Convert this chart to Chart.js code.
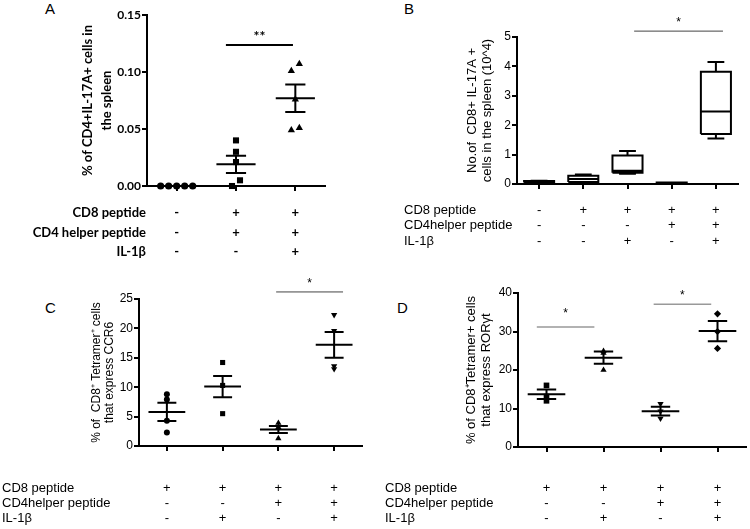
<!DOCTYPE html>
<html>
<head>
<meta charset="utf-8">
<script src="https://cdn.jsdelivr.net/npm/chart.js@4.4.0/dist/chart.umd.min.js"></script>
<style>
  body { margin: 0; background: #fff; width: 750px; height: 529px; position: relative; overflow: hidden; }
  canvas { position: absolute; }
  .letter { position: absolute; font: 15px "Liberation Sans", Arial, sans-serif; line-height: 15px; color: #000; }
</style>
</head>
<body>
<div class="letter" style="left:45px;top:1px">A</div>
<div class="letter" style="left:404px;top:1px">B</div>
<div class="letter" style="left:45px;top:300px">C</div>
<div class="letter" style="left:397px;top:300px">D</div>
<canvas id="chartA" width="375" height="265" style="left:0;top:0"></canvas>
<canvas id="chartB" width="375" height="265" style="left:375px;top:0"></canvas>
<canvas id="chartC" width="375" height="264" style="left:0;top:265px"></canvas>
<canvas id="chartD" width="375" height="264" style="left:375px;top:265px"></canvas>
<script>
// Panel A: % of CD4+IL-17A+ cells (scatter, mean ± SEM)
const rowNamesA = ['CD8 peptide', 'CD4 helper peptide', 'IL-1β'];
const signsA = [['-', '+', '+'], ['-', '+', '+'], ['-', '-', '+']];
const valuesA = [
  [0, 0, 0, 0, 0],
  [0.040, 0.030, 0.021, 0.005, 0.000],
  [0.107, 0.101, 0.076, 0.051, 0.049]
];
const meanA = [0, 0.019, 0.077];
const semA = [0, 0.0075, 0.012];
const ticksA = [0, 0.05, 0.10, 0.15];

// Panel B: No. of CD8+ IL-17A+ cells (box and whiskers)
const rowNamesB = ['CD8 peptide', 'CD4helper peptide', 'IL-1β'];
const signsB = [['-', '+', '+', '+', '+'], ['-', '-', '-', '+', '+'], ['-', '-', '+', '-', '+']];
const minB = [0.05, 0.05, 0.35, 0.02, 1.55];
const q1B = [0.05, 0.07, 0.38, 0.02, 1.70];
const medB = [0.08, 0.17, 0.45, 0.03, 2.47];
const q3B = [0.10, 0.28, 0.97, 0.05, 3.82];
const maxB = [0.11, 0.32, 1.12, 0.05, 4.15];
const ticksB = [0, 1, 2, 3, 4, 5];

// Panel C: % of CD8+ Tetramer+ cells expressing CCR6
const rowNamesC = ['CD8 peptide', 'CD4helper peptide', 'IL-1β'];
const signsC = [['+', '+', '+', '+'], ['-', '-', '+', '+'], ['-', '+', '-', '+']];
const valuesC = [[8.8, 7.9, 4.3, 2.3], [14.2, 10.3, 5.5], [3.9, 3.2, 1.3], [22.3, 19.6, 13.6, 13.1]];
const meanC = [5.8, 10.1, 2.8, 17.2];
const semC = [1.55, 1.8, 0.6, 2.2];
const ticksC = [0, 5, 10, 15, 20, 25];

// Panel D: % of CD8+ Tetramer+ cells expressing RORγt
const rowNamesD = ['CD8 peptide', 'CD4helper peptide', 'IL-1β'];
const signsD = [['+', '+', '+', '+'], ['-', '-', '+', '+'], ['-', '+', '-', '+']];
const valuesD = [[16.0, 13.1, 12.0], [24.9, 24.4, 20.0], [11.2, 9.3, 7.4], [34.6, 30.0, 25.6]];
const meanD = [13.7, 23.2, 9.3, 30.1];
const semD = [1.25, 1.6, 1.15, 2.6];
const ticksD = [0, 10, 20, 30, 40];

const SANS = '"Liberation Sans", Arial, sans-serif';
const BOLD = 'Lato, "Liberation Sans", sans-serif';

// spread points with near-equal values sideways, like a Prism dot plot
function swarm(vals, g, tol, step) {
  const xs = vals.map(() => g);
  if (!step) return xs;
  const order = vals.map((v, i) => i).sort((a, b) => vals[a] - vals[b]);
  let cluster = [order[0]];
  const flush = () => cluster.forEach((idx, k) => { xs[idx] = g + (k - (cluster.length - 1) / 2) * step; });
  for (let k = 1; k < order.length; k++) {
    if (vals[order[k]] - vals[order[k - 1]] <= tol) cluster.push(order[k]);
    else { flush(); cluster = [order[k]]; }
  }
  flush();
  return xs;
}

function semSegments(mean, sem, meanHalf, capHalf) {
  const pts = [];
  mean.forEach((m, g) => {
    const hi = m + sem[g], lo = m - sem[g];
    pts.push({x: g - meanHalf, y: m}, {x: g + meanHalf, y: m}, {x: g, y: null});
    if (sem[g] > 0) {
      pts.push({x: g - capHalf, y: hi}, {x: g + capHalf, y: hi}, {x: g, y: null});
      pts.push({x: g - capHalf, y: lo}, {x: g + capHalf, y: lo}, {x: g, y: null});
      pts.push({x: g, y: lo}, {x: g, y: hi}, {x: g, y: null});
    }
  });
  return pts;
}

function boxSegments(min, q1, med, q3, max, boxHalf, capHalf) {
  const pts = [];
  med.forEach((m, g) => {
    const l = g - boxHalf, r = g + boxHalf;
    pts.push({x: l, y: q1[g]}, {x: r, y: q1[g]}, {x: r, y: q3[g]}, {x: l, y: q3[g]}, {x: l, y: q1[g]}, {x: g, y: null});
    pts.push({x: l, y: m}, {x: r, y: m}, {x: g, y: null});
    pts.push({x: g, y: q3[g]}, {x: g, y: max[g]}, {x: g, y: null});
    pts.push({x: g - capHalf, y: max[g]}, {x: g + capHalf, y: max[g]}, {x: g, y: null});
    pts.push({x: g, y: q1[g]}, {x: g, y: min[g]}, {x: g, y: null});
    pts.push({x: g - capHalf, y: min[g]}, {x: g + capHalf, y: min[g]}, {x: g, y: null});
  });
  return pts;
}

// condition table under the x axis + significance bars
function rowsPlugin(p) {
  return {
    id: 'rows',
    afterDraw(chart) {
      const {ctx, chartArea, scales} = chart;
      ctx.save();
      ctx.fillStyle = '#000';
      ctx.textBaseline = 'middle';
      ctx.font = p.rowFont;
      p.rowNames.forEach((name, r) => {
        const y = chartArea.bottom + p.rowOffset + r * p.rowGap;
        ctx.textAlign = p.nameAlign;
        ctx.fillText(name, p.nameX, y);
        ctx.textAlign = 'center';
        p.signs[r].forEach((s, g) => ctx.fillText(s, scales.x.getPixelForValue(g), y));
      });
      p.sig.forEach(s => {
        const x1 = scales.x.getPixelForValue(s.x1), x2 = scales.x.getPixelForValue(s.x2);
        const y = scales.y.getPixelForValue(s.y);
        ctx.strokeStyle = p.sigColor;
        ctx.lineWidth = p.sigWidth;
        ctx.beginPath();
        ctx.moveTo(x1, y);
        ctx.lineTo(x2, y);
        ctx.stroke();
        ctx.font = p.starFont;
        ctx.textAlign = 'center';
        ctx.fillText(s.text, (x1 + x2) / 2, y - s.lift);
      });
      ctx.restore();
    }
  };
}

function makePanel(id, p) {
  const datasets = [];
  if (p.groups) {
    p.groups.forEach((vals, g) => {
      const xs = swarm(vals, g, p.tol, p.step);
      datasets.push({
        data: vals.map((v, i) => ({x: xs[i], y: v})),
        showLine: false,
        pointStyle: p.styles[g],
        rotation: p.rotations[g],
        pointRadius: p.radii[g],
        backgroundColor: '#000',
        borderColor: '#000',
        borderWidth: 0,
        clip: false
      });
    });
  }
  datasets.push({
    data: p.segments,
    borderColor: '#000',
    borderWidth: 2,
    pointRadius: 0,
    spanGaps: false,
    borderCapStyle: 'butt',
    borderJoinStyle: 'miter',
    clip: false
  });
  const n = p.signs[0].length;
  const axisGrid = {drawOnChartArea: false, drawTicks: true, tickLength: 5, color: '#000', lineWidth: 2};
  return new Chart(document.getElementById(id), {
    type: 'line',
    data: {datasets},
    options: {
      responsive: false,
      animation: false,
      events: [],
      layout: {padding: p.padding},
      plugins: {legend: {display: false}, tooltip: {enabled: false}},
      scales: {
        x: {
          type: 'linear', min: -0.5, max: n - 0.5,
          afterBuildTicks: a => { a.ticks = p.signs[0].map((_, i) => ({value: i})); },
          afterFit: a => { a.height = p.xHeight; },
          ticks: {display: false},
          grid: axisGrid,
          border: {color: '#000', width: 2}
        },
        y: {
          type: 'linear', min: p.ticks[0], max: p.ticks[p.ticks.length - 1],
          afterBuildTicks: a => { a.ticks = p.ticks.map(v => ({value: v})); },
          afterFit: a => { a.width = p.yWidth; },
          ticks: {color: '#000', font: p.tickFont, padding: 1, callback: p.fmt},
          grid: axisGrid,
          border: {color: '#000', width: 2},
          title: {display: true, text: p.title, color: '#000', font: p.titleFont, padding: 0}
        }
      }
    },
    plugins: [rowsPlugin(p)]
  });
}

makePanel('chartA', {
  groups: valuesA, tol: 0.007, step: 0.135,
  styles: ['circle', 'rect', 'triangle'], rotations: [0, 0, 0], radii: [3.6, 4.3, 4.2],
  segments: semSegments(meanA, semA, 0.33, 0.17),
  ticks: ticksA, fmt: v => v.toFixed(2),
  padding: {left: 78, top: 15, right: 50, bottom: 0}, yWidth: 69, xHeight: 79,
  tickFont: {family: BOLD, size: 12, weight: 'bold'},
  title: ['% of CD4+IL-17A+ cells in', 'the spleen'],
  titleFont: {family: BOLD, size: 13, weight: 'bold', lineHeight: 1.46},
  rowNames: rowNamesA, signs: signsA, rowFont: 'bold 13px ' + BOLD,
  nameAlign: 'right', nameX: 146, rowOffset: 27, rowGap: 19.5,
  sig: [{x1: 0.83, x2: 1.96, y: 0.1237, text: '**', lift: 8}],
  sigColor: '#000', sigWidth: 2, starFont: 'bold 14px ' + BOLD
});

makePanel('chartB', {
  groups: null,
  segments: boxSegments(minB, q1B, medB, q3B, maxB, 0.34, 0.19),
  ticks: ticksB, fmt: v => String(v),
  padding: {left: 90, top: 37, right: 12, bottom: 0}, yWidth: 52, xHeight: 81,
  tickFont: {family: SANS, size: 12},
  title: ['No.of  CD8+ IL-17A +', 'cells in the spleen (10^4)'],
  titleFont: {family: SANS, size: 13, lineHeight: 1.15},
  rowNames: rowNamesB, signs: signsB, rowFont: '13px ' + SANS,
  nameAlign: 'left', nameX: 29, rowOffset: 26, rowGap: 15.5,
  sig: [{x1: 2.15, x2: 4.16, y: 5.2, text: '*', lift: 8}],
  sigColor: '#444', sigWidth: 1, starFont: '12px ' + SANS
});

makePanel('chartC', {
  groups: valuesC, tol: 0, step: 0,
  styles: ['circle', 'rect', 'triangle', 'triangle'], rotations: [0, 0, 0, 180], radii: [3, 3.6, 3.6, 3.6],
  segments: semSegments(meanC, semC, 0.33, 0.17),
  ticks: ticksC, fmt: v => String(v),
  padding: {left: 90, top: 34, right: 13, bottom: 0}, yWidth: 49, xHeight: 83,
  tickFont: {family: SANS, size: 12},
  title: ['% of  CD8⁺ Tetramer⁺ cells', 'that express CCR6'],
  titleFont: {family: SANS, size: 12, lineHeight: 1.1},
  rowNames: rowNamesC, signs: signsC, rowFont: '13px ' + SANS,
  nameAlign: 'left', nameX: 2, rowOffset: 42, rowGap: 15,
  sig: [{x1: 1.96, x2: 3.16, y: 26.2, text: '*', lift: 8}],
  sigColor: '#444', sigWidth: 1, starFont: '12px ' + SANS
});

makePanel('chartD', {
  groups: valuesD, tol: 0, step: 0,
  styles: ['rect', 'triangle', 'triangle', 'rectRot'], rotations: [0, 0, 180, 0], radii: [4, 3.6, 3.6, 3.6],
  segments: semSegments(meanD, semD, 0.33, 0.17),
  ticks: ticksD, fmt: v => String(v),
  padding: {left: 89, top: 28, right: 2, bottom: 0}, yWidth: 54, xHeight: 82,
  tickFont: {family: SANS, size: 12},
  title: ['% of CD8⁺Tetramer+ cells', 'that express RORγt'],
  titleFont: {family: SANS, size: 13, lineHeight: 1.15},
  rowNames: rowNamesD, signs: signsD, rowFont: '13px ' + SANS,
  nameAlign: 'left', nameX: 10, rowOffset: 41, rowGap: 15,
  sig: [{x1: -0.17, x2: 0.84, y: 31.2, text: '*', lift: 13}, {x1: 1.88, x2: 2.89, y: 37.1, text: '*', lift: 8}],
  sigColor: '#999', sigWidth: 1.5, starFont: '12px ' + SANS
});
</script>
</body>
</html>
